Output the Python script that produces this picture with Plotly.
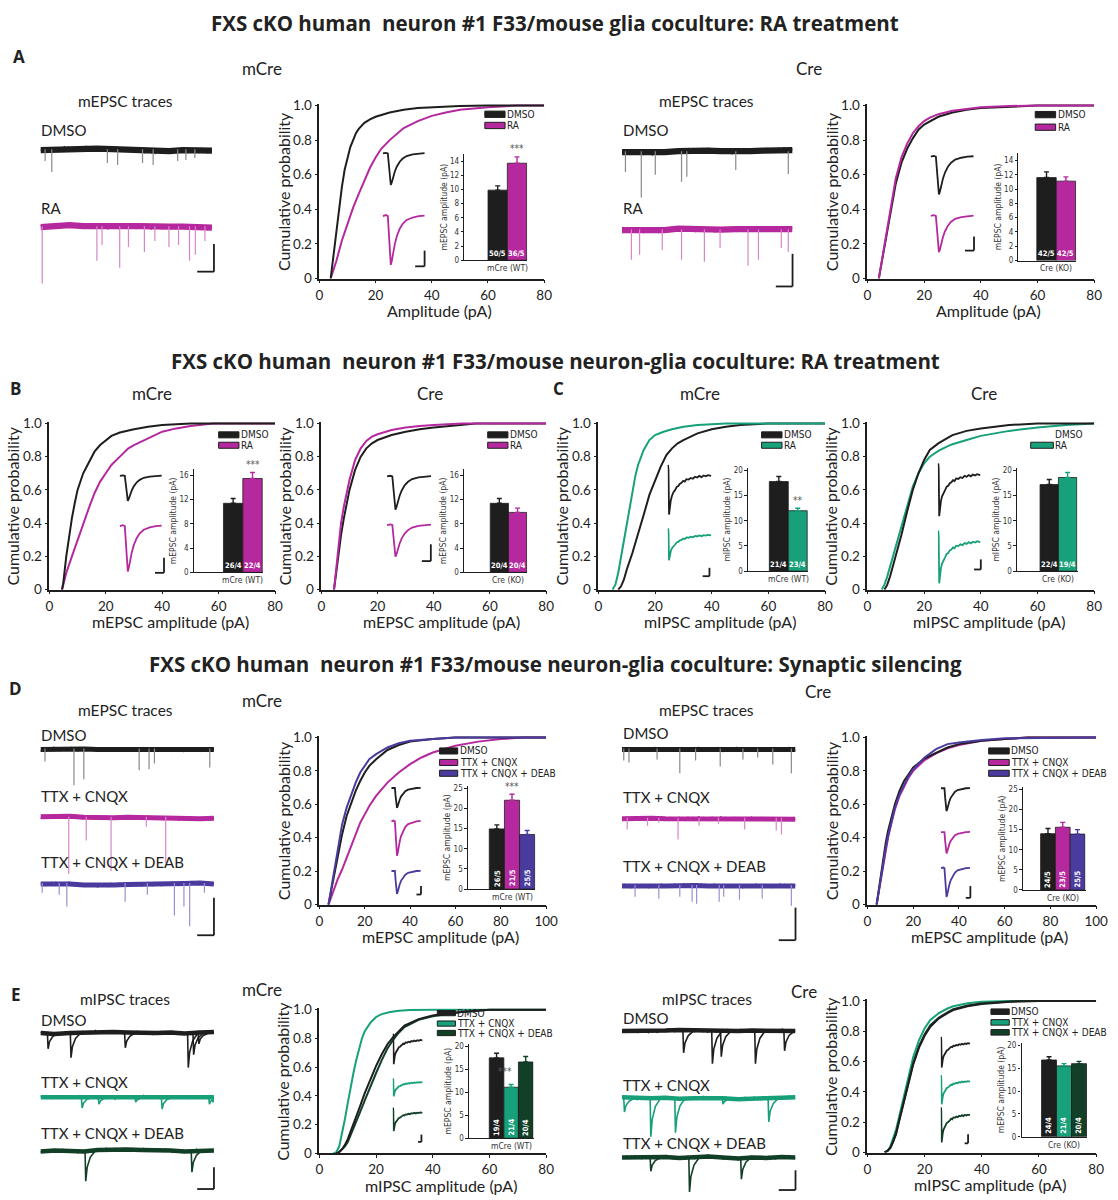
import numpy as np
import plotly.graph_objects as go

W, H = 1118, 1200
FONT = "Lato, Open Sans, Noto Sans, sans-serif"
TFONT = "Open Sans, Noto Sans, sans-serif"
NARROW = "Liberation Sans Narrow, DejaVu Sans Condensed, Roboto, sans-serif"
BLACK = "#1e1e1e"; MAGENTA = "#b5289e"; GREEN = "#17a079"; DKGREEN = "#123f27"; BLUE = "#4a3b9e"
EV = {BLACK: "#8a8a8a", MAGENTA: "#d985c9", BLUE: "#9c90d2", GREEN: "#17a079", DKGREEN: "#1f3f2c"}

# ---------------- cumulative distributions ----------------
A_MCRE_DMSO_X = [4,5,6,7,8,9,10,11,12,13,14,16,18,20,25,30,35,40,50,60,80]
A_MCRE_DMSO_Y = [0,0.13,0.27,0.41,0.53,0.63,0.7,0.76,0.8,0.84,0.865,0.9,0.92,0.935,0.96,0.975,0.985,0.99,0.997,1,1]
A_MCRE_RA_X = [4,6,8,10,12,14,16,18,20,22,25,28,30,35,40,45,50,60,70,80]
A_MCRE_RA_Y = [0,0.1,0.22,0.32,0.41,0.49,0.57,0.64,0.7,0.75,0.8,0.845,0.87,0.91,0.94,0.96,0.975,0.99,1,1]
A_CRE_DMSO_X = [4,6,8,10,12,14,16,18,20,22,25,30,35,40,50,60,80]
A_CRE_DMSO_Y = [0,0.18,0.38,0.55,0.67,0.75,0.81,0.86,0.89,0.91,0.935,0.96,0.975,0.985,0.993,1,1]
A_CRE_RA_X = [4,6,8,10,12,14,16,18,20,22,25,30,35,40,50,60,80]
A_CRE_RA_Y = [0,0.19,0.4,0.58,0.7,0.78,0.84,0.88,0.91,0.93,0.95,0.97,0.98,0.99,0.997,1,1]

B_MCRE_DMSO_X = [4.5,5,6,7,8,9,10,12,14,16,18,20,22,25,30,35,40,50,60,80]
B_MCRE_DMSO_Y = [0,0.05,0.2,0.33,0.43,0.52,0.6,0.7,0.77,0.83,0.87,0.9,0.925,0.945,0.965,0.98,0.99,1,1,1]
B_MCRE_RA_X = [4.5,6,8,10,12,14,16,18,20,22,25,28,30,35,40,45,50,58,80]
B_MCRE_RA_Y = [0,0.1,0.2,0.3,0.4,0.49,0.58,0.65,0.7,0.75,0.8,0.85,0.87,0.91,0.95,0.97,0.985,1,1]
B_CRE_DMSO_X = [4.5,6,7,8,9,10,12,14,16,18,20,25,30,35,40,50,55,80]
B_CRE_DMSO_Y = [0,0.2,0.33,0.43,0.52,0.6,0.72,0.8,0.85,0.88,0.9,0.93,0.95,0.965,0.975,0.99,1,1]
B_CRE_RA_X = [4.5,6,7,8,9,10,12,14,16,18,20,25,30,35,40,50,80]
B_CRE_RA_Y = [0,0.25,0.4,0.5,0.58,0.66,0.78,0.85,0.895,0.92,0.935,0.96,0.975,0.985,0.99,1,1]

C_MCRE_DMSO_X = [7,8,9,10,12,14,16,18,20,22,24,26,28,30,35,40,45,50,60,80]
C_MCRE_DMSO_Y = [0,0.02,0.06,0.12,0.22,0.33,0.45,0.57,0.66,0.74,0.81,0.85,0.88,0.9,0.94,0.965,0.98,0.99,1,1]
C_MCRE_RA_X = [5,6,7,8,9,10,11,12,13,14,15,16,18,20,23,26,30,35,40,45,80]
C_MCRE_RA_Y = [0,0.03,0.1,0.2,0.3,0.4,0.5,0.6,0.68,0.75,0.8,0.84,0.9,0.93,0.95,0.965,0.98,0.99,0.995,1,1]
C_CRE_DMSO_X = [6,7,8,9,10,12,14,16,18,20,22,25,28,30,35,40,50,60,80]
C_CRE_DMSO_Y = [0,0.03,0.08,0.14,0.2,0.33,0.47,0.6,0.7,0.78,0.84,0.88,0.91,0.93,0.955,0.97,0.99,1,1]
C_CRE_RA_X = [5,6,7,8,9,10,12,14,16,18,20,22,25,28,30,35,40,45,50,60,70,80]
C_CRE_RA_Y = [0,0.03,0.08,0.14,0.2,0.26,0.38,0.5,0.62,0.7,0.76,0.8,0.835,0.86,0.875,0.9,0.925,0.94,0.955,0.975,0.99,1]

D_MCRE_DMSO_X = [4,5,6,7,8,9,10,12,14,16,18,20,22,25,30,35,40,50,60,80,100]
D_MCRE_DMSO_Y = [0,0.07,0.15,0.23,0.3,0.36,0.42,0.53,0.61,0.68,0.74,0.79,0.83,0.87,0.925,0.955,0.975,0.99,1,1,1]
D_MCRE_TTX_X = [4,6,8,10,12,14,16,18,20,22,25,28,30,35,40,45,50,60,70,80,90,100]
D_MCRE_TTX_Y = [0,0.08,0.15,0.21,0.28,0.35,0.42,0.49,0.54,0.59,0.65,0.7,0.73,0.79,0.84,0.88,0.91,0.95,0.975,0.99,1,1]
D_MCRE_DEAB_X = [4,5,6,7,8,9,10,12,14,16,18,20,22,25,30,35,40,50,60,80,100]
D_MCRE_DEAB_Y = [0,0.08,0.17,0.26,0.34,0.41,0.48,0.58,0.66,0.73,0.79,0.83,0.87,0.9,0.94,0.965,0.98,0.99,1,1,1]
D_CRE_DMSO_X = [4,5,6,7,8,9,10,12,14,16,18,20,25,30,35,40,50,60,70,100]
D_CRE_DMSO_Y = [0,0.1,0.2,0.29,0.37,0.44,0.5,0.6,0.68,0.74,0.78,0.82,0.875,0.91,0.94,0.96,0.98,0.99,1,1]
D_CRE_TTX_X = [4,5,6,7,8,9,10,12,14,16,18,20,25,30,35,40,50,60,70,100]
D_CRE_TTX_Y = [0,0.08,0.17,0.25,0.33,0.4,0.46,0.57,0.65,0.71,0.76,0.8,0.865,0.905,0.935,0.955,0.98,0.99,1,1]
D_CRE_DEAB_X = [4,5,6,7,8,9,10,12,14,16,18,20,25,30,35,40,50,60,100]
D_CRE_DEAB_Y = [0,0.09,0.18,0.26,0.34,0.41,0.47,0.58,0.66,0.72,0.77,0.81,0.88,0.93,0.96,0.97,0.985,0.995,1]

E_MCRE_DMSO_X = [6,7,8,9,10,12,14,16,18,20,22,24,26,28,30,35,40,45,50,60,80]
E_MCRE_DMSO_Y = [0,0.01,0.03,0.06,0.1,0.2,0.31,0.42,0.52,0.61,0.69,0.76,0.81,0.85,0.89,0.935,0.96,0.975,0.985,1,1]
E_MCRE_TTX_X = [5,6,7,8,9,10,11,12,13,14,15,16,18,20,22,25,28,32,40,80]
E_MCRE_TTX_Y = [0,0.01,0.05,0.14,0.24,0.35,0.46,0.56,0.65,0.73,0.8,0.85,0.91,0.95,0.97,0.985,0.993,0.998,1,1]
E_MCRE_DEAB_X = [6,7,8,9,10,12,14,16,18,20,22,24,26,28,30,35,40,45,50,60,80]
E_MCRE_DEAB_Y = [0,0.01,0.03,0.05,0.08,0.17,0.27,0.37,0.47,0.56,0.65,0.73,0.79,0.84,0.88,0.93,0.955,0.97,0.985,1,1]
E_CRE_DMSO_X = [6,7,8,9,10,11,12,13,14,15,16,18,20,22,25,28,30,35,40,50,60,80]
E_CRE_DMSO_Y = [0,0.01,0.03,0.07,0.12,0.2,0.28,0.36,0.44,0.51,0.58,0.69,0.77,0.83,0.885,0.92,0.94,0.965,0.98,0.995,1,1]
E_CRE_TTX_X = [6,7,8,9,10,11,12,13,14,15,16,18,20,22,25,28,30,35,40,50,80]
E_CRE_TTX_Y = [0,0.01,0.04,0.09,0.15,0.23,0.31,0.4,0.48,0.56,0.63,0.74,0.82,0.875,0.92,0.95,0.965,0.985,0.995,1,1]
E_CRE_DEAB_X = [6,7,8,9,10,11,12,13,14,15,16,18,20,22,25,28,30,35,40,50,60,80]
E_CRE_DEAB_Y = [0,0.01,0.03,0.07,0.13,0.21,0.29,0.37,0.45,0.52,0.59,0.7,0.78,0.84,0.89,0.925,0.945,0.97,0.985,0.997,1,1]

# ---------------- bar insets (mean, s.e.m., n cells / cultures) ----------------
A_MCRE_BAR = [9.9, 13.7]; A_MCRE_ERR = [0.6, 0.9]; A_MCRE_N = ["50/5", "36/5"]
A_CRE_BAR = [11.6, 11.1]; A_CRE_ERR = [0.8, 0.6]; A_CRE_N = ["42/5", "42/5"]
B_MCRE_BAR = [11.4, 15.5]; B_MCRE_ERR = [0.8, 1.0]; B_MCRE_N = ["26/4", "22/4"]
B_CRE_BAR = [11.4, 9.9]; B_CRE_ERR = [0.8, 0.7]; B_CRE_N = ["20/4", "20/4"]
C_MCRE_BAR = [17.8, 12.0]; C_MCRE_ERR = [1.0, 0.5]; C_MCRE_N = ["21/4", "23/4"]
C_CRE_BAR = [17.2, 18.6]; C_CRE_ERR = [1.0, 1.0]; C_CRE_N = ["22/4", "19/4"]
D_MCRE_BAR = [14.9, 22.0, 13.5]; D_MCRE_ERR = [1.0, 1.5, 1.0]; D_MCRE_N = ["26/5", "21/5", "25/5"]
D_CRE_BAR = [14.0, 15.6, 13.9]; D_CRE_ERR = [1.3, 1.2, 1.1]; D_CRE_N = ["24/5", "23/5", "25/5"]
E_MCRE_BAR = [17.5, 11.1, 16.6]; E_MCRE_ERR = [1.0, 0.6, 1.2]; E_MCRE_N = ["19/4", "21/4", "20/4"]
E_CRE_BAR = [16.8, 15.5, 16.0]; E_CRE_ERR = [0.7, 0.5, 0.5]; E_CRE_N = ["24/4", "21/4", "20/4"]

# ---------------- averaged event waveforms (normalised) ----------------
EPSC_T = [0, 3, 5, 6, 7, 8, 9, 10, 12, 14, 17, 20, 24, 30, 36, 42]
EPSC_V = [0, 0.02, 0, -0.4, -0.85, -1.0, -0.92, -0.78, -0.58, -0.42, -0.26, -0.16, -0.08, -0.03, 0, 0.01]
IPSC_T = [0, 0.4, 0.9, 1.5, 2.5, 3.5, 5, 6.5, 8, 9.5, 11, 12.5, 14, 15.5, 17, 19, 21, 23, 25, 27, 29, 31, 33, 35, 37, 40]
IPSC_V = [0.22, 0.1, -1.0, -0.82, -0.66, -0.55, -0.45, -0.4, -0.32, -0.3, -0.24, -0.22, -0.17, -0.19, -0.13, -0.14,
          -0.1, -0.12, -0.07, -0.09, -0.05, -0.08, -0.04, -0.06, -0.03, -0.05]
IPSC_EV_DX = [0, 0.004, 0.012, 0.03, 0.06]
IPSC_EV_DV = [0, -1, -0.55, -0.22, 0]

# ---------------- raw traces: baseline drift + recording noise + events ----------------
DRIFT_T = [0, 0.08, 0.17, 0.25, 0.33, 0.42, 0.5, 0.58, 0.67, 0.75, 0.83, 0.92, 1.0]
NOISE = [0.3, -0.5, 0.8, -0.2, 0.6, -0.9, 0.1, 0.7, -0.4, 0.5, -0.7, 0.9, -0.1, 0.4, -0.8, 0.6, -0.3, 0.2, -0.6, 0.8,
         -0.5, 0.3, -0.9, 0.7, -0.2, 0.5, -0.6, 0.1, 0.9, -0.4, 0.6, -0.8, 0.2, -0.3, 0.7, -0.5, 0.4, -0.7, 0.8, -0.1,
         0.5, -0.9, 0.3, -0.4, 0.6, -0.2, 0.7, -0.6, 0.1, -0.8, 0.5, -0.3, 0.9, -0.5, 0.2, -0.7, 0.4, -0.1, 0.6, -0.4,
         0.3, -0.6, 0.8, -0.3, 0.5, -0.8, 0.2, 0.6, -0.5, 0.4, -0.7, 0.9, -0.2, 0.3, -0.6, 0.7, -0.4, 0.1, -0.9, 0.5]
A_L_DMSO_DRIFT = [0, 0.5, 1.5, 2, 1.5, 1, 0.5, 0, -1.5, -1, 0, -0.5, -0.5]
A_L_DMSO_EV_X = [0.027, 0.066, 0.39, 0.45, 0.595, 0.657, 0.8, 0.848, 0.9]
A_L_DMSO_EV_D = [11, 22, 13, 15, 13, 15, 11, 10, 8]
A_L_RA_DRIFT = [0, 1.5, 2, 1, 0.5, 0, 1, 1, 0, 0.5, 0.5, -0.5, -0.5]
A_L_RA_EV_X = [0.01, 0.329, 0.359, 0.462, 0.513, 0.606, 0.667, 0.749, 0.805, 0.869, 0.903, 0.959]
A_L_RA_EV_D = [57, 34, 18, 41, 20, 25, 14, 20, 18, 34, 28, 14]
A_R_DMSO_DRIFT = [0, -0.5, -1, 0, 1, 2, 1.5, 1, 0.5, 1, 1.5, 2.5, 2]
A_R_DMSO_EV_X = [0.02, 0.113, 0.195, 0.349, 0.38, 0.667, 0.975]
A_R_DMSO_EV_D = [20, 46, 23, 30, 25, 18, 22]
A_R_RA_DRIFT = [0, 0, -0.5, 0, 1.5, 1, 0, 0.5, 1, 1, 0.5, 1, 1]
A_R_RA_EV_X = [0.055, 0.103, 0.236, 0.349, 0.483, 0.575, 0.739, 0.8, 0.934, 0.975]
A_R_RA_EV_D = [30, 25, 20, 30, 32, 18, 36, 30, 18, 22]
D_L_DMSO_DRIFT = [0, 0.5, 0.5, 0.5, 0, 0, 0.5, 0, 0.5, 0, -0.5, 0, 0]
D_L_DMSO_EV_X = [0.026, 0.193, 0.25, 0.569, 0.626, 0.657, 0.976]
D_L_DMSO_EV_D = [12, 36, 30, 21, 20, 14, 18]
D_L_TTX_DRIFT = [1, 1.5, 1.5, 0.5, 0, 0, 0.5, 0, 0, -0.5, -1, -1, -0.5]
D_L_TTX_EV_X = [0.163, 0.264, 0.407, 0.61, 0.722]
D_L_TTX_EV_D = [57, 23, 54, 9, 46]
D_L_DEAB_DRIFT = [0, 0.5, 0, -1, -1.5, -1, -0.5, -0.5, -0.5, 0, 0.5, 1, 0]
D_L_DEAB_EV_X = [0.01, 0.108, 0.152, 0.488, 0.616, 0.772, 0.827, 0.86, 0.945]
D_L_DEAB_EV_D = [9, 11, 23, 18, 11, 32, 23, 43, 9]
D_R_DMSO_DRIFT = [0, 0, 0.5, 0, 0, 0.5, 0, 0, 0.5, 0, 0.5, 0.5, 0]
D_R_DMSO_EV_X = [0.01, 0.04, 0.202, 0.333, 0.424, 0.566, 0.697, 0.782, 0.869, 0.976]
D_R_DMSO_EV_D = [11, 13, 10, 24, 11, 17, 10, 8, 15, 24]
D_R_TTX_DRIFT = [0, 0.5, 0.5, 0, 0, 0.5, 0, 0.5, 0, 0, 0, -0.5, -0.5]
D_R_TTX_EV_X = [0.03, 0.147, 0.212, 0.323, 0.444, 0.556, 0.707, 0.889, 0.919]
D_R_TTX_EV_D = [11, 7, 4, 21, 7, 5, 11, 12, 16]
D_R_DEAB_DRIFT = [0, -0.5, 0, 0, 0.5, 0.5, 0, 0, -0.5, 0, 0, 0.5, 0]
D_R_DEAB_EV_X = [0.075, 0.212, 0.333, 0.404, 0.43, 0.56, 0.586, 0.677, 0.808, 0.976]
D_R_DEAB_EV_D = [11, 13, 11, 16, 18, 16, 11, 14, 13, 20]
E_L_DMSO_DRIFT = [0, -1, 0, 0.5, 1, 1, 0.5, 0, 0, 0.5, -0.5, 0.5, 1]
E_L_DMSO_EV_X = [0.04, 0.172, 0.485, 0.848, 0.879, 0.909]
E_L_DMSO_EV_D = [16, 25, 15, 35, 22, 11]
E_L_TTX_DRIFT = [0, 0, 0, 0.5, 0, -0.5, 0, 0.5, 0, -0.5, 0, 0, 0]
E_L_TTX_EV_X = [0.236, 0.333, 0.545, 0.697, 0.97, 0.99]
E_L_TTX_EV_D = [11, 7, 5, 12, 7, 5]
E_L_DEAB_DRIFT = [-1, 0, -0.5, -1, 0.5, 1, 1, 0.5, 0.5, 0, -1, 0, 0]
E_L_DEAB_EV_X = [0.257, 0.869]
E_L_DEAB_EV_D = [31, 22]
E_R_DMSO_DRIFT = [0, 0, -0.5, 0.5, 1, 0.5, 0, 0.5, 0, 0.5, 0, 0.5, 0]
E_R_DMSO_EV_X = [0.351, 0.517, 0.568, 0.765, 0.933]
E_R_DMSO_EV_D = [22, 33, 26, 33, 20]
E_R_TTX_DRIFT = [1, 0, 0, 0.5, -0.5, 0, 0.5, 0, -1, 0, 0, 0.5, 1]
E_R_TTX_EV_X = [0.01, 0.162, 0.304, 0.578, 0.842]
E_R_TTX_EV_D = [14, 39, 35, 6, 24]
E_R_DEAB_DRIFT = [0, 0.5, 0, 0.5, -0.5, 0, 1, 0, -1, 0, -0.5, 0.5, 0]
E_R_DEAB_EV_X = [0.162, 0.385, 0.684]
E_R_DEAB_EV_D = [14, 35, 22]

# =====================================================================
fig = go.Figure()
layout = {}
annotations = []
shapes = []
axn = [0]
rown = [0]
HIDDEN = dict(visible=False, fixedrange=True, showgrid=False, zeroline=False)


def new_axes(x0, x1, ytop, ybot, xr, yr, xo=None, yo=None):
    axn[0] += 1
    n = axn[0]
    s = "" if n == 1 else str(n)
    layout["xaxis" + s] = dict(domain=[max(0, x0 / W), min(1, x1 / W)], range=xr, anchor="y" + s, **(xo or HIDDEN))
    layout["yaxis" + s] = dict(domain=[max(0, 1 - ybot / H), min(1, 1 - ytop / H)], range=yr, anchor="x" + s,
                               **(yo or HIDDEN))
    return "x" + s, "y" + s


def text(x, y, t, size=15, bold=False, xanchor="center", angle=0, color="#222", family=FONT):
    annotations.append(dict(x=x / W, y=1 - y / H, xref="paper", yref="paper", text=f"<b>{t}</b>" if bold else t,
                            showarrow=False, xanchor=xanchor, yanchor="middle", textangle=angle, borderpad=0,
                            font=dict(size=size, family=family, color=color)))


def pline(x0, y0, x1, y1, w=1.8):
    shapes.append(dict(type="line", xref="paper", yref="paper", x0=x0 / W, y0=1 - y0 / H, x1=x1 / W, y1=1 - y1 / H,
                       line=dict(color=BLACK, width=w)))


AX = dict(showline=True, linecolor=BLACK, linewidth=1.6, ticks="outside", ticklen=3, tickwidth=1.4, tickcolor=BLACK,
          tickfont=dict(size=13.5, family=FONT, color=BLACK), showgrid=False, zeroline=False, fixedrange=True)


def cum_panel(box, xmax, xticks, curves, xtitle):
    X0, X1, Y0, Y1 = box
    xo = dict(AX, tickvals=xticks, ticktext=[str(t) for t in xticks])
    yo = dict(AX, tickvals=[0, 0.2, 0.4, 0.6, 0.8, 1.0], ticktext=["0", "0.2", "0.4", "0.6", "0.8", "1.0"])
    xa, ya = new_axes(X0, X1, Y0, Y1, [0, xmax], [0, 1.01], xo, yo)
    for xs, ys, c in curves:
        fig.add_trace(go.Scatter(x=xs, y=ys, mode="lines", line=dict(color=c, width=2), xaxis=xa, yaxis=ya,
                                 showlegend=False, hoverinfo="skip"))
    text(X0 - 37, (Y0 + Y1) / 2, "Cumulative probability", size=16, angle=-90)
    text((X0 + X1) / 2 + 8, Y1 + 32, xtitle, size=16)
    return xa, ya


def legend(xa, ya, bx0, bx1, ys, entries):
    for fy, (lab, col) in zip(ys, entries):
        if col is not None:
            shapes.append(dict(type="rect", xref=f"{xa} domain", yref=f"{ya} domain", x0=bx0, x1=bx1,
                               y0=1 - fy - 0.018, y1=1 - fy + 0.018, fillcolor=col, line=dict(color=BLACK, width=1)))
        annotations.append(dict(x=bx1 + 0.004, y=1 - fy, xref=f"{xa} domain", yref=f"{ya} domain", text=lab,
                                showarrow=False, xanchor="left", yanchor="middle", borderpad=0,
                                font=dict(size=10, family=NARROW, color="#222")))


def waveforms(box, fx0, fx1, rows, scale):
    X0, X1, Y0, Y1 = box
    w, h = X1 - X0, Y1 - Y0
    for ftop, fbot, col, kind in rows:
        if kind == "E":
            t, v, yr = EPSC_T, EPSC_V, [-1.03, 0.08]
        else:
            t, v, yr = IPSC_T, IPSC_V, [-1.03, 0.25]
        xa, ya = new_axes(X0 + fx0 * w, X0 + fx1 * w, Y0 + ftop * h, Y0 + fbot * h, [-0.5, t[-1] + 0.5], yr)
        fig.add_trace(go.Scatter(x=t, y=v, mode="lines", line=dict(color=col, width=1.8), xaxis=xa, yaxis=ya,
                                 showlegend=False, hoverinfo="skip"))
    sx, sy0, sy1, sl = scale
    pline(X0 + sx * w, Y0 + sy0 * h, X0 + sx * w, Y0 + sy1 * h)
    pline(X0 + (sx - sl) * w, Y0 + sy1 * h, X0 + sx * w, Y0 + sy1 * h)


def bar_inset(box, spec, vals, errs, ns, colors, ytitle, cat, stars=None, rot=False):
    X0, X1, Y0, Y1 = box
    w, h = X1 - X0, Y1 - Y0
    axpx, b0, b1 = X0 + spec["ax"] * w, X0 + spec["b0"] * w, X0 + spec["b1"] * w
    n = len(vals)
    bw = (b1 - b0) / n
    gap = (b0 - axpx) / bw
    y0px, ytpx = Y0 + spec["y0"] * h, Y0 + spec["yt"] * h
    ppu = (y0px - ytpx) / spec["tmax"]
    ytop = y0px - spec["ymax"] * ppu
    xo = dict(showline=True, linecolor=BLACK, linewidth=1.2, ticks="", showticklabels=False, showgrid=False,
              zeroline=False, fixedrange=True)
    yo = dict(showline=True, linecolor=BLACK, linewidth=1.2, ticks="outside", ticklen=2.5, tickwidth=1,
              tickcolor=BLACK, dtick=spec["dt"], tick0=0, tickfont=dict(size=8, family=NARROW, color="#333"),
              showgrid=False, zeroline=False, fixedrange=True,
              title=dict(text=ytitle, font=dict(size=8.5, family=NARROW, color="#333"), standoff=1))
    xa, ya = new_axes(axpx, b1 + 1.5, ytop, y0px, [-0.5 - gap, n - 0.5 + 0.04], [0, spec["ymax"]], xo, yo)
    for i, (v, e, c) in enumerate(zip(vals, errs, colors)):
        fig.add_trace(go.Bar(x=[i], y=[v], width=[1], marker=dict(color=c, line=dict(color=BLACK, width=0.8)),
                             error_y=dict(type="data", array=[e], arrayminus=[0], symmetric=False, color=c,
                                          thickness=1.4, width=2.5),
                             xaxis=xa, yaxis=ya, showlegend=False, hoverinfo="skip"))
        annotations.append(dict(x=i, y=spec["ymax"] * 0.015, xref=xa, yref=ya, text=f"<b>{ns[i]}</b>",
                                showarrow=False, xanchor="center", yanchor="bottom", textangle=-90 if rot else 0,
                                borderpad=0, font=dict(size=7.5, family=NARROW, color="white")))
    if stars:
        sxv, syv, stxt = stars
        annotations.append(dict(x=sxv, y=syv, xref=xa, yref=ya, text=stxt, borderpad=0,
                                showarrow=False, xanchor="center", yanchor="bottom",
                                font=dict(size=10, family=NARROW, color="#555")))
    annotations.append(dict(x=(n - 1) / 2, y=1 - (y0px + 8) / H, xref=xa, yref="paper", text=cat, showarrow=False,
                            xanchor="center", yanchor="middle", borderpad=0,
                            font=dict(size=8.5, family=NARROW, color="#333")))


NT = [i / (len(NOISE) - 1) for i in range(len(NOISE))]


def raw_row(x0, x1, base, drift, evx, evd, col, amp, kind="E"):
    rown[0] += 1
    k = (rown[0] * 17) % len(NOISE)
    nz = NOISE[k:] + NOISE[:k]
    below = min(70, H - base)
    xa, ya = new_axes(x0, x1, base - 12, base + below, [0, 1], [-below, 12])
    band = np.interp(NT, DRIFT_T, drift)
    fig.add_trace(go.Scatter(x=DRIFT_T, y=drift, mode="lines", line=dict(color=col, width=2.5 * amp), xaxis=xa,
                             yaxis=ya, showlegend=False, hoverinfo="skip"))
    fig.add_trace(go.Scatter(x=NT, y=list(band + amp * np.array(nz)), mode="lines", line=dict(color=col, width=1.3),
                             xaxis=xa, yaxis=ya, showlegend=False, hoverinfo="skip"))
    ex, ey = [], []
    for t, d in zip(evx, evd):
        if kind == "E":
            ex += [t, t, None]
            ey += [1, -d, None]
        else:
            ex += [t + dx for dx in IPSC_EV_DX] + [None]
            ey += [d * dv for dv in IPSC_EV_DV] + [None]
    ecol = EV[col] if kind == "E" else col
    fig.add_trace(go.Scatter(x=ex, y=ey, mode="lines", line=dict(color=ecol, width=1.2 if kind == "E" else 1.6),
                             xaxis=xa, yaxis=ya, showlegend=False, hoverinfo="skip", connectgaps=False))


# ---------------- titles ----------------
TITLE_SIZE = 20.5
text(559, 16, "FXS cKO human  neuron #1 F33/mouse glia coculture: RA treatment", size=TITLE_SIZE, bold=True,
     family=TFONT)
text(559, 358, "FXS cKO human  neuron #1 F33/mouse neuron-glia coculture: RA treatment", size=TITLE_SIZE, bold=True,
     family=TFONT)
text(559, 665, "FXS cKO human  neuron #1 F33/mouse neuron-glia coculture: Synaptic silencing", size=TITLE_SIZE,
     bold=True, family=TFONT)
for lab, x, y in [("A", 15, 50), ("B", 12, 386), ("C", 563, 386), ("D", 12, 690), ("E", 12, 1000)]:
    text(x, y, lab, size=17, bold=True, family=TFONT)

# ================= Panel A =================
text(262, 62, "mCre", size=17); text(817, 62, "Cre", size=17)
for xc, xl in [(123, 37), (713, 627)]:
    text(xc, 95, "mEPSC traces", size=15.5)
    text(xl, 125, "DMSO", size=15, xanchor="left")
    text(xl, 204, "RA", size=15, xanchor="left")
raw_row(37, 211, 145, A_L_DMSO_DRIFT, A_L_DMSO_EV_X, A_L_DMSO_EV_D, BLACK, 2.5)
raw_row(37, 211, 223, A_L_RA_DRIFT, A_L_RA_EV_X, A_L_RA_EV_D, MAGENTA, 2.5)
raw_row(627, 800, 147, A_R_DMSO_DRIFT, A_R_DMSO_EV_X, A_R_DMSO_EV_D, BLACK, 2.5)
raw_row(627, 800, 226, A_R_RA_DRIFT, A_R_RA_EV_X, A_R_RA_EV_D, MAGENTA, 2.5)
pline(213, 240, 213, 268); pline(196, 268, 213, 268)
pline(800, 250, 800, 283); pline(783, 283, 800, 283)

boxAL = (320, 548, 98, 275)
xa, ya = cum_panel(boxAL, 80, [0, 20, 40, 60, 80],
                   [(A_MCRE_RA_X, A_MCRE_RA_Y, MAGENTA), (A_MCRE_DMSO_X, A_MCRE_DMSO_Y, BLACK)], "Amplitude (pA)")
legend(xa, ya, 0.736, 0.826, [0.06, 0.124], [("DMSO", BLACK), ("RA", MAGENTA)])
waveforms(boxAL, 0.28, 0.47, [(0.27, 0.47, BLACK, "E"), (0.62, 0.93, MAGENTA, "E")], (0.468, 0.84, 0.93, 0.042))
bar_inset(boxAL, dict(ax=0.645, b0=0.749, b1=0.919, y0=0.895, yt=0.328, tmax=14, ymax=15, dt=2),
          A_MCRE_BAR, A_MCRE_ERR, A_MCRE_N, [BLACK, MAGENTA], "mEPSC amplitude (pA)", "mCre (WT)",
          stars=(1, 14.9, "***"))

boxAR = (876, 1106, 98, 275)
xa, ya = cum_panel(boxAR, 80, [0, 20, 40, 60, 80],
                   [(A_CRE_DMSO_X, A_CRE_DMSO_Y, BLACK), (A_CRE_RA_X, A_CRE_RA_Y, MAGENTA)], "Amplitude (pA)")
legend(xa, ya, 0.74, 0.83, [0.062, 0.134], [("DMSO", BLACK), ("RA", MAGENTA)])
waveforms(boxAR, 0.277, 0.47, [(0.285, 0.525, BLACK, "E"), (0.625, 0.856, MAGENTA, "E")], (0.47, 0.76, 0.84, 0.04))
bar_inset(boxAR, dict(ax=0.666, b0=0.746, b1=0.915, y0=0.897, yt=0.324, tmax=14, ymax=15, dt=2),
          A_CRE_BAR, A_CRE_ERR, A_CRE_N, [BLACK, MAGENTA], "mEPSC amplitude (pA)", "Cre (KO)")

# ================= Panel B / C =================
text(150, 391, "mCre", size=17); text(432, 391, "Cre", size=17)
text(706, 391, "mCre", size=17); text(994, 391, "Cre", size=17)

boxBL = (46, 275, 420, 590)
xa, ya = cum_panel(boxBL, 80, [0, 20, 40, 60, 80],
                   [(B_MCRE_RA_X, B_MCRE_RA_Y, MAGENTA), (B_MCRE_DMSO_X, B_MCRE_DMSO_Y, BLACK)],
                   "mEPSC amplitude (pA)")
legend(xa, ya, 0.75, 0.84, [0.078, 0.14], [("DMSO", BLACK), ("RA", MAGENTA)])
waveforms(boxBL, 0.31, 0.5, [(0.31, 0.476, BLACK, "E"), (0.60, 0.90, MAGENTA, "E")], (0.508, 0.81, 0.90, 0.04))
bar_inset(boxBL, dict(ax=0.64, b0=0.77, b1=0.94, y0=0.897, yt=0.32, tmax=16, ymax=17, dt=4),
          B_MCRE_BAR, B_MCRE_ERR, B_MCRE_N, [BLACK, MAGENTA], "mEPSC amplitude (pA)", "mCre (WT)",
          stars=(1, 16.7, "***"))

boxBR = (322, 550, 420, 590)
xa, ya = cum_panel(boxBR, 80, [0, 20, 40, 60, 80],
                   [(B_CRE_DMSO_X, B_CRE_DMSO_Y, BLACK), (B_CRE_RA_X, B_CRE_RA_Y, MAGENTA)],
                   "mEPSC amplitude (pA)")
legend(xa, ya, 0.74, 0.83, [0.078, 0.14], [("DMSO", BLACK), ("RA", MAGENTA)])
waveforms(boxBR, 0.29, 0.49, [(0.31, 0.53, BLACK, "E"), (0.60, 0.81, MAGENTA, "E")], (0.487, 0.73, 0.83, 0.04))
bar_inset(boxBR, dict(ax=0.635, b0=0.75, b1=0.91, y0=0.897, yt=0.32, tmax=16, ymax=17, dt=4),
          B_CRE_BAR, B_CRE_ERR, B_CRE_N, [BLACK, MAGENTA], "mEPSC amplitude (pA)", "Cre (KO)")

boxCL = (603, 833, 420, 590)
xa, ya = cum_panel(boxCL, 80, [0, 20, 40, 60, 80],
                   [(C_MCRE_DMSO_X, C_MCRE_DMSO_Y, BLACK), (C_MCRE_RA_X, C_MCRE_RA_Y, GREEN)],
                   "mIPSC amplitude (pA)")
legend(xa, ya, 0.72, 0.81, [0.078, 0.14], [("DMSO", BLACK), ("RA", GREEN)])
waveforms(boxCL, 0.305, 0.5, [(0.25, 0.56, BLACK, "I"), (0.63, 0.83, GREEN, "I")], (0.49, 0.87, 0.92, 0.03))
bar_inset(boxCL, dict(ax=0.66, b0=0.753, b1=0.918, y0=0.89, yt=0.29, tmax=20, ymax=20.5, dt=5),
          C_MCRE_BAR, C_MCRE_ERR, C_MCRE_N, [BLACK, GREEN], "mIPSC amplitude (pA)", "mCre (WT)",
          stars=(1, 12.8, "**"))

boxCR = (876, 1106, 420, 590)
xa, ya = cum_panel(boxCR, 80, [0, 20, 40, 60, 80],
                   [(C_CRE_RA_X, C_CRE_RA_Y, GREEN), (C_CRE_DMSO_X, C_CRE_DMSO_Y, BLACK)],
                   "mIPSC amplitude (pA)")
legend(xa, ya, 0.72, 0.82, [0.078, 0.14], [("DMSO", None), ("RA", GREEN)])
waveforms(boxCR, 0.31, 0.5, [(0.24, 0.57, BLACK, "I"), (0.64, 0.97, GREEN, "I")], (0.5, 0.82, 0.88, 0.03))
bar_inset(boxCR, dict(ax=0.66, b0=0.76, b1=0.92, y0=0.89, yt=0.29, tmax=20, ymax=20.5, dt=5),
          C_CRE_BAR, C_CRE_ERR, C_CRE_N, [BLACK, GREEN], "mIPSC amplitude (pA)", "Cre (KO)")

# ================= Panel D =================
text(262, 702, "mCre", size=17); text(826, 693, "Cre", size=17)
for xc, xl, ys in [(123, 37, (737, 799, 866)), (713, 627, (735, 800, 870))]:
    text(xc, 712, "mEPSC traces", size=15.5)
    text(xl, ys[0], "DMSO", size=15, xanchor="left")
    text(xl, ys[1], "TTX + CNQX", size=15, xanchor="left")
    text(xl, ys[2], "TTX + CNQX + DEAB", size=15, xanchor="left")
raw_row(37, 213, 752, D_L_DMSO_DRIFT, D_L_DMSO_EV_X, D_L_DMSO_EV_D, BLACK, 2)
raw_row(37, 213, 821, D_L_TTX_DRIFT, D_L_TTX_EV_X, D_L_TTX_EV_D, MAGENTA, 2)
raw_row(37, 213, 888, D_L_DEAB_DRIFT, D_L_DEAB_EV_X, D_L_DEAB_EV_D, BLUE, 2)
raw_row(627, 803, 752, D_R_DMSO_DRIFT, D_R_DMSO_EV_X, D_R_DMSO_EV_D, BLACK, 2)
raw_row(627, 803, 822, D_R_TTX_DRIFT, D_R_TTX_EV_X, D_R_TTX_EV_D, MAGENTA, 2)
raw_row(627, 803, 890, D_R_DEAB_DRIFT, D_R_DEAB_EV_X, D_R_DEAB_EV_D, BLUE, 2)
pline(213, 902, 213, 940); pline(196, 940, 213, 940)
pline(803, 912, 803, 945); pline(786, 945, 803, 945)

boxDL = (320, 550, 738, 909)
xa, ya = cum_panel(boxDL, 100, [0, 20, 40, 60, 80, 100],
                   [(D_MCRE_TTX_X, D_MCRE_TTX_Y, MAGENTA), (D_MCRE_DMSO_X, D_MCRE_DMSO_Y, BLACK),
                    (D_MCRE_DEAB_X, D_MCRE_DEAB_Y, BLUE)], "mEPSC amplitude (pA)")
legend(xa, ya, 0.53, 0.61, [0.09, 0.158, 0.222],
       [("DMSO", BLACK), ("TTX + CNQX", MAGENTA), ("TTX + CNQX + DEAB", BLUE)])
waveforms(boxDL, 0.316, 0.448, [(0.30, 0.43, BLACK, "E"), (0.49, 0.717, MAGENTA, "E"), (0.79, 0.94, BLUE, "E")],
          (0.448, 0.89, 0.94, 0.02))
bar_inset(boxDL, dict(ax=0.655, b0=0.748, b1=0.946, y0=0.908, yt=0.31, tmax=25, ymax=25.5, dt=5),
          D_MCRE_BAR, D_MCRE_ERR, D_MCRE_N, [BLACK, MAGENTA, BLUE], "mEPSC amplitude (pA)", "mCre (WT)",
          stars=(1, 23.8, "***"), rot=True)

boxDR = (876, 1108, 738, 909)
xa, ya = cum_panel(boxDR, 100, [0, 20, 40, 60, 80, 100],
                   [(D_CRE_TTX_X, D_CRE_TTX_Y, MAGENTA), (D_CRE_DMSO_X, D_CRE_DMSO_Y, BLACK),
                    (D_CRE_DEAB_X, D_CRE_DEAB_Y, BLUE)], "mEPSC amplitude (pA)")
legend(xa, ya, 0.53, 0.62, [0.09, 0.158, 0.222],
       [("DMSO", BLACK), ("TTX + CNQX", MAGENTA), ("TTX + CNQX + DEAB", BLUE)])
waveforms(boxDR, 0.32, 0.45, [(0.30, 0.45, BLACK, "E"), (0.56, 0.70, MAGENTA, "E"), (0.77, 0.96, BLUE, "E")],
          (0.45, 0.89, 0.96, 0.02))
bar_inset(boxDR, dict(ax=0.68, b0=0.756, b1=0.947, y0=0.913, yt=0.318, tmax=25, ymax=25.5, dt=5),
          D_CRE_BAR, D_CRE_ERR, D_CRE_N, [BLACK, MAGENTA, BLUE], "mEPSC amplitude (pA)", "Cre (KO)", rot=True)

# ================= Panel E =================
text(262, 995, "mCre", size=17); text(812, 997, "Cre", size=17)
for xc, xl, ys in [(123, 37, (1026, 1089, 1140)), (713, 627, (1024, 1092, 1150))]:
    text(xc, 1005, "mIPSC traces", size=15.5)
    text(xl, ys[0], "DMSO", size=15, xanchor="left")
    text(xl, ys[1], "TTX + CNQX", size=15, xanchor="left")
    text(xl, ys[2], "TTX + CNQX + DEAB", size=15, xanchor="left")
raw_row(37, 213, 1039, E_L_DMSO_DRIFT, E_L_DMSO_EV_X, E_L_DMSO_EV_D, BLACK, 1.8, "I")
raw_row(37, 213, 1104, E_L_TTX_DRIFT, E_L_TTX_EV_X, E_L_TTX_EV_D, GREEN, 1.8, "I")
raw_row(37, 213, 1158, E_L_DEAB_DRIFT, E_L_DEAB_EV_X, E_L_DEAB_EV_D, DKGREEN, 1.8, "I")
raw_row(627, 803, 1037, E_R_DMSO_DRIFT, E_R_DMSO_EV_X, E_R_DMSO_EV_D, BLACK, 1.8, "I")
raw_row(627, 803, 1105, E_R_TTX_DRIFT, E_R_TTX_EV_X, E_R_TTX_EV_D, GREEN, 1.8, "I")
raw_row(627, 803, 1165, E_R_DEAB_DRIFT, E_R_DEAB_EV_X, E_R_DEAB_EV_D, DKGREEN, 1.8, "I")
pline(213, 1175, 213, 1197); pline(196, 1197, 213, 1197)
pline(803, 1178, 803, 1198); pline(786, 1198, 803, 1198)

boxEL = (320, 550, 1014, 1161)
xa, ya = cum_panel(boxEL, 80, [0, 20, 40, 60, 80],
                   [(E_MCRE_TTX_X, E_MCRE_TTX_Y, GREEN), (E_MCRE_DEAB_X, E_MCRE_DEAB_Y, DKGREEN),
                    (E_MCRE_DMSO_X, E_MCRE_DMSO_Y, BLACK)], "mIPSC amplitude (pA)")
legend(xa, ya, 0.52, 0.60, [0.033, 0.105, 0.17],
       [("DMSO", BLACK), ("TTX + CNQX", GREEN), ("TTX + CNQX + DEAB", DKGREEN)])
waveforms(boxEL, 0.323, 0.456, [(0.17, 0.39, BLACK, "I"), (0.48, 0.61, GREEN, "I"), (0.68, 0.85, DKGREEN, "I")],
          (0.45, 0.87, 0.92, 0.015))
bar_inset(boxEL, dict(ax=0.66, b0=0.748, b1=0.938, y0=0.895, yt=0.262, tmax=20, ymax=20.5, dt=5),
          E_MCRE_BAR, E_MCRE_ERR, E_MCRE_N, [BLACK, GREEN, DKGREEN], "mEPSC amplitude (pA)", "mCre (WT)",
          stars=(0.6, 13.2, "***"), rot=True)

boxER = (876, 1108, 1005, 1160)
xa, ya = cum_panel(boxER, 80, [0, 20, 40, 60, 80],
                   [(E_CRE_TTX_X, E_CRE_TTX_Y, GREEN), (E_CRE_DEAB_X, E_CRE_DEAB_Y, DKGREEN),
                    (E_CRE_DMSO_X, E_CRE_DMSO_Y, BLACK)], "mIPSC amplitude (pA)")
legend(xa, ya, 0.54, 0.62, [0.08, 0.15, 0.215],
       [("DMSO", BLACK), ("TTX + CNQX", GREEN), ("TTX + CNQX + DEAB", DKGREEN)])
waveforms(boxER, 0.32, 0.45, [(0.24, 0.45, BLACK, "I"), (0.49, 0.69, GREEN, "I"), (0.70, 0.94, DKGREEN, "I")],
          (0.44, 0.88, 0.94, 0.015))
bar_inset(boxER, dict(ax=0.674, b0=0.76, b1=0.954, y0=0.897, yt=0.30, tmax=20, ymax=20.5, dt=5),
          E_CRE_BAR, E_CRE_ERR, E_CRE_N, [BLACK, GREEN, DKGREEN], "mEPSC amplitude (pA)", "Cre (KO)", rot=True)

fig.update_layout(width=W, height=H, margin=dict(l=0, r=0, t=0, b=0), paper_bgcolor="white",
                  plot_bgcolor="rgba(0,0,0,0)", showlegend=False, barmode="overlay",
                  annotations=annotations, shapes=shapes, font=dict(family=FONT), **layout)
fig.write_html("out.html")
